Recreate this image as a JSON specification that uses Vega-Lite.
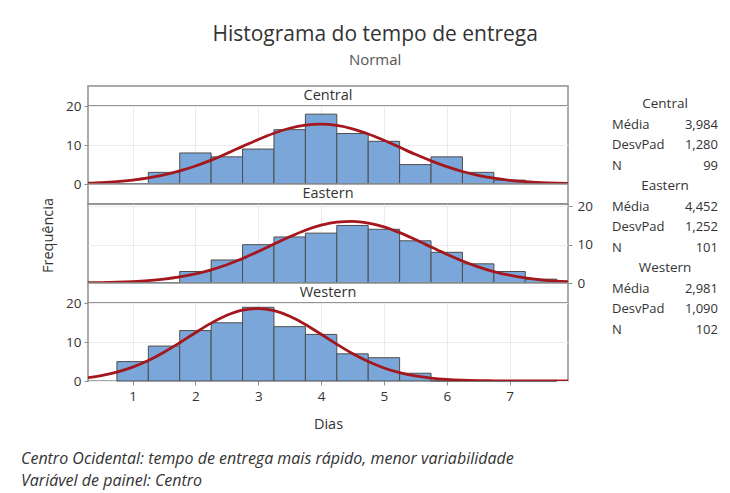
{
  "$schema": "https://vega.github.io/schema/vega-lite/v6.json",
  "padding": {"left": 20, "top": 24, "right": 5, "bottom": 5},
  "background": "white",
  "title": {
    "text": "Histograma do tempo de entrega",
    "subtitle": "Normal",
    "anchor": "middle",
    "dx": 6,
    "fontSize": 21,
    "fontWeight": "normal",
    "color": "#333333",
    "subtitleFontSize": 15,
    "subtitleColor": "#555555",
    "subtitlePadding": 8,
    "offset": 17
  },
  "datasets": {
    "barras": [
      {"centro": "Central", "inicio": 0.75, "fim": 1.25, "contagem": 0},
      {"centro": "Central", "inicio": 1.25, "fim": 1.75, "contagem": 3},
      {"centro": "Central", "inicio": 1.75, "fim": 2.25, "contagem": 8},
      {"centro": "Central", "inicio": 2.25, "fim": 2.75, "contagem": 7},
      {"centro": "Central", "inicio": 2.75, "fim": 3.25, "contagem": 9},
      {"centro": "Central", "inicio": 3.25, "fim": 3.75, "contagem": 14},
      {"centro": "Central", "inicio": 3.75, "fim": 4.25, "contagem": 18},
      {"centro": "Central", "inicio": 4.25, "fim": 4.75, "contagem": 13},
      {"centro": "Central", "inicio": 4.75, "fim": 5.25, "contagem": 11},
      {"centro": "Central", "inicio": 5.25, "fim": 5.75, "contagem": 5},
      {"centro": "Central", "inicio": 5.75, "fim": 6.25, "contagem": 7},
      {"centro": "Central", "inicio": 6.25, "fim": 6.75, "contagem": 3},
      {"centro": "Central", "inicio": 6.75, "fim": 7.25, "contagem": 1},
      {"centro": "Central", "inicio": 7.25, "fim": 7.75, "contagem": 0},
      {"centro": "Eastern", "inicio": 0.75, "fim": 1.25, "contagem": 0},
      {"centro": "Eastern", "inicio": 1.25, "fim": 1.75, "contagem": 0},
      {"centro": "Eastern", "inicio": 1.75, "fim": 2.25, "contagem": 3},
      {"centro": "Eastern", "inicio": 2.25, "fim": 2.75, "contagem": 6},
      {"centro": "Eastern", "inicio": 2.75, "fim": 3.25, "contagem": 10},
      {"centro": "Eastern", "inicio": 3.25, "fim": 3.75, "contagem": 12},
      {"centro": "Eastern", "inicio": 3.75, "fim": 4.25, "contagem": 13},
      {"centro": "Eastern", "inicio": 4.25, "fim": 4.75, "contagem": 15},
      {"centro": "Eastern", "inicio": 4.75, "fim": 5.25, "contagem": 14},
      {"centro": "Eastern", "inicio": 5.25, "fim": 5.75, "contagem": 11},
      {"centro": "Eastern", "inicio": 5.75, "fim": 6.25, "contagem": 8},
      {"centro": "Eastern", "inicio": 6.25, "fim": 6.75, "contagem": 5},
      {"centro": "Eastern", "inicio": 6.75, "fim": 7.25, "contagem": 3},
      {"centro": "Eastern", "inicio": 7.25, "fim": 7.75, "contagem": 1},
      {"centro": "Western", "inicio": 0.75, "fim": 1.25, "contagem": 5},
      {"centro": "Western", "inicio": 1.25, "fim": 1.75, "contagem": 9},
      {"centro": "Western", "inicio": 1.75, "fim": 2.25, "contagem": 13},
      {"centro": "Western", "inicio": 2.25, "fim": 2.75, "contagem": 15},
      {"centro": "Western", "inicio": 2.75, "fim": 3.25, "contagem": 19},
      {"centro": "Western", "inicio": 3.25, "fim": 3.75, "contagem": 14},
      {"centro": "Western", "inicio": 3.75, "fim": 4.25, "contagem": 12},
      {"centro": "Western", "inicio": 4.25, "fim": 4.75, "contagem": 7},
      {"centro": "Western", "inicio": 4.75, "fim": 5.25, "contagem": 6},
      {"centro": "Western", "inicio": 5.25, "fim": 5.75, "contagem": 2},
      {"centro": "Western", "inicio": 5.75, "fim": 6.25, "contagem": 0},
      {"centro": "Western", "inicio": 6.25, "fim": 6.75, "contagem": 0},
      {"centro": "Western", "inicio": 6.75, "fim": 7.25, "contagem": 0},
      {"centro": "Western", "inicio": 7.25, "fim": 7.75, "contagem": 0}
    ],
    "curvas": [
      {"centro": "Central", "dias": 0.25, "frequencia": 0.219},
      {"centro": "Central", "dias": 0.5, "frequencia": 0.38},
      {"centro": "Central", "dias": 0.75, "frequencia": 0.634},
      {"centro": "Central", "dias": 1.0, "frequencia": 1.019},
      {"centro": "Central", "dias": 1.25, "frequencia": 1.577},
      {"centro": "Central", "dias": 1.5, "frequencia": 2.347},
      {"centro": "Central", "dias": 1.75, "frequencia": 3.365},
      {"centro": "Central", "dias": 2.0, "frequencia": 4.643},
      {"centro": "Central", "dias": 2.25, "frequencia": 6.164},
      {"centro": "Central", "dias": 2.5, "frequencia": 7.879},
      {"centro": "Central", "dias": 2.75, "frequencia": 9.695},
      {"centro": "Central", "dias": 3.0, "frequencia": 11.48},
      {"centro": "Central", "dias": 3.25, "frequencia": 13.09},
      {"centro": "Central", "dias": 3.5, "frequencia": 14.37},
      {"centro": "Central", "dias": 3.75, "frequencia": 15.17},
      {"centro": "Central", "dias": 4.0, "frequencia": 15.43},
      {"centro": "Central", "dias": 4.25, "frequencia": 15.1},
      {"centro": "Central", "dias": 4.5, "frequencia": 14.23},
      {"centro": "Central", "dias": 4.75, "frequencia": 12.9},
      {"centro": "Central", "dias": 5.0, "frequencia": 11.26},
      {"centro": "Central", "dias": 5.25, "frequencia": 9.46},
      {"centro": "Central", "dias": 5.5, "frequencia": 7.65},
      {"centro": "Central", "dias": 5.75, "frequencia": 5.956},
      {"centro": "Central", "dias": 6.0, "frequencia": 4.465},
      {"centro": "Central", "dias": 6.25, "frequencia": 3.22},
      {"centro": "Central", "dias": 6.5, "frequencia": 2.236},
      {"centro": "Central", "dias": 6.75, "frequencia": 1.494},
      {"centro": "Central", "dias": 7.0, "frequencia": 0.961},
      {"centro": "Central", "dias": 7.25, "frequencia": 0.595},
      {"centro": "Central", "dias": 7.5, "frequencia": 0.355},
      {"centro": "Central", "dias": 7.75, "frequencia": 0.204},
      {"centro": "Central", "dias": 8.0, "frequencia": 0.112},
      {"centro": "Eastern", "dias": 0.25, "frequencia": 0.058},
      {"centro": "Eastern", "dias": 0.5, "frequencia": 0.11},
      {"centro": "Eastern", "dias": 0.75, "frequencia": 0.203},
      {"centro": "Eastern", "dias": 1.0, "frequencia": 0.36},
      {"centro": "Eastern", "dias": 1.25, "frequencia": 0.611},
      {"centro": "Eastern", "dias": 1.5, "frequencia": 0.998},
      {"centro": "Eastern", "dias": 1.75, "frequencia": 1.567},
      {"centro": "Eastern", "dias": 2.0, "frequencia": 2.364},
      {"centro": "Eastern", "dias": 2.25, "frequencia": 3.427},
      {"centro": "Eastern", "dias": 2.5, "frequencia": 4.773},
      {"centro": "Eastern", "dias": 2.75, "frequencia": 6.386},
      {"centro": "Eastern", "dias": 3.0, "frequencia": 8.212},
      {"centro": "Eastern", "dias": 3.25, "frequencia": 10.15},
      {"centro": "Eastern", "dias": 3.5, "frequencia": 12.05},
      {"centro": "Eastern", "dias": 3.75, "frequencia": 13.75},
      {"centro": "Eastern", "dias": 4.0, "frequencia": 15.07},
      {"centro": "Eastern", "dias": 4.25, "frequencia": 15.88},
      {"centro": "Eastern", "dias": 4.5, "frequencia": 16.08},
      {"centro": "Eastern", "dias": 4.75, "frequencia": 15.64},
      {"centro": "Eastern", "dias": 5.0, "frequencia": 14.62},
      {"centro": "Eastern", "dias": 5.25, "frequencia": 13.13},
      {"centro": "Eastern", "dias": 5.5, "frequencia": 11.33},
      {"centro": "Eastern", "dias": 5.75, "frequencia": 9.401},
      {"centro": "Eastern", "dias": 6.0, "frequencia": 7.492},
      {"centro": "Eastern", "dias": 6.25, "frequencia": 5.738},
      {"centro": "Eastern", "dias": 6.5, "frequencia": 4.222},
      {"centro": "Eastern", "dias": 6.75, "frequencia": 2.985},
      {"centro": "Eastern", "dias": 7.0, "frequencia": 2.029},
      {"centro": "Eastern", "dias": 7.25, "frequencia": 1.324},
      {"centro": "Eastern", "dias": 7.5, "frequencia": 0.831},
      {"centro": "Eastern", "dias": 7.75, "frequencia": 0.501},
      {"centro": "Eastern", "dias": 8.0, "frequencia": 0.29},
      {"centro": "Western", "dias": 0.25, "frequencia": 0.809},
      {"centro": "Western", "dias": 0.5, "frequencia": 1.4},
      {"centro": "Western", "dias": 0.75, "frequencia": 2.298},
      {"centro": "Western", "dias": 1.0, "frequencia": 3.581},
      {"centro": "Western", "dias": 1.25, "frequencia": 5.291},
      {"centro": "Western", "dias": 1.5, "frequencia": 7.418},
      {"centro": "Western", "dias": 1.75, "frequencia": 9.867},
      {"centro": "Western", "dias": 2.0, "frequencia": 12.45},
      {"centro": "Western", "dias": 2.25, "frequencia": 14.91},
      {"centro": "Western", "dias": 2.5, "frequencia": 16.94},
      {"centro": "Western", "dias": 2.75, "frequencia": 18.26},
      {"centro": "Western", "dias": 3.0, "frequencia": 18.67},
      {"centro": "Western", "dias": 3.25, "frequencia": 18.11},
      {"centro": "Western", "dias": 3.5, "frequencia": 16.67},
      {"centro": "Western", "dias": 3.75, "frequencia": 14.56},
      {"centro": "Western", "dias": 4.0, "frequencia": 12.06},
      {"centro": "Western", "dias": 4.25, "frequencia": 9.481},
      {"centro": "Western", "dias": 4.5, "frequencia": 7.07},
      {"centro": "Western", "dias": 4.75, "frequencia": 5.003},
      {"centro": "Western", "dias": 5.0, "frequencia": 3.359},
      {"centro": "Western", "dias": 5.25, "frequencia": 2.14},
      {"centro": "Western", "dias": 5.5, "frequencia": 1.293},
      {"centro": "Western", "dias": 5.75, "frequencia": 0.741},
      {"centro": "Western", "dias": 6.0, "frequencia": 0.403},
      {"centro": "Western", "dias": 6.25, "frequencia": 0.208},
      {"centro": "Western", "dias": 6.5, "frequencia": 0.102},
      {"centro": "Western", "dias": 6.75, "frequencia": 0.047},
      {"centro": "Western", "dias": 7.0, "frequencia": 0.021},
      {"centro": "Western", "dias": 7.25, "frequencia": 0.009},
      {"centro": "Western", "dias": 7.5, "frequencia": 0.003},
      {"centro": "Western", "dias": 7.75, "frequencia": 0.001},
      {"centro": "Western", "dias": 8.0, "frequencia": 0.0004}
    ],
    "estatisticas": [
      {"linha": "Central", "tipo": "cabecalho", "texto": "Central"},
      {"linha": "Central Média", "tipo": "rotulo", "texto": "Média"},
      {"linha": "Central Média", "tipo": "valor", "texto": "3,984"},
      {"linha": "Central DesvPad", "tipo": "rotulo", "texto": "DesvPad"},
      {"linha": "Central DesvPad", "tipo": "valor", "texto": "1,280"},
      {"linha": "Central N", "tipo": "rotulo", "texto": "N"},
      {"linha": "Central N", "tipo": "valor", "texto": "99"},
      {"linha": "Eastern", "tipo": "cabecalho", "texto": "Eastern"},
      {"linha": "Eastern Média", "tipo": "rotulo", "texto": "Média"},
      {"linha": "Eastern Média", "tipo": "valor", "texto": "4,452"},
      {"linha": "Eastern DesvPad", "tipo": "rotulo", "texto": "DesvPad"},
      {"linha": "Eastern DesvPad", "tipo": "valor", "texto": "1,252"},
      {"linha": "Eastern N", "tipo": "rotulo", "texto": "N"},
      {"linha": "Eastern N", "tipo": "valor", "texto": "101"},
      {"linha": "Western", "tipo": "cabecalho", "texto": "Western"},
      {"linha": "Western Média", "tipo": "rotulo", "texto": "Média"},
      {"linha": "Western Média", "tipo": "valor", "texto": "2,981"},
      {"linha": "Western DesvPad", "tipo": "rotulo", "texto": "DesvPad"},
      {"linha": "Western DesvPad", "tipo": "valor", "texto": "1,090"},
      {"linha": "Western N", "tipo": "rotulo", "texto": "N"},
      {"linha": "Western N", "tipo": "valor", "texto": "102"}
    ]
  },
  "spacing": 18,
  "hconcat": [
    {
      "spacing": 0,
      "bounds": "flush",
      "vconcat": [
        {
          "width": 480, "height": 20,
          "data": {"values": [{"centro": "Central"}]},
          "layer": [
            {"mark": {"type": "rect", "fill": "white", "stroke": "#8f8f8f", "strokeWidth": 1.5}, "encoding": {}},
            {"mark": {"type": "text", "fontSize": 14.5, "color": "#333333", "baseline": "middle"}, "encoding": {"text": {"field": "centro"}}}
          ]
        },
        {
          "width": 480, "height": 78,
          "layer": [
            {
              "data": {"name": "barras"},
              "transform": [{"filter": "datum.centro == 'Central'"}],
              "mark": {"type": "rect", "fill": "#7BA6D9", "stroke": "#4d4d4d", "strokeWidth": 1},
              "encoding": {
                "x": {"field": "inicio", "type": "quantitative", "scale": {"domain": [0.29, 7.93], "nice": false, "zero": false}, "axis": {"values": [1, 2, 3, 4, 5, 6, 7], "labels": false, "ticks": false, "title": null, "grid": true}},
                "x2": {"field": "fim"},
                "y": {"field": "contagem", "type": "quantitative", "scale": {"domain": [0, 20.1], "nice": false}, "axis": {"values": [0, 10, 20], "title": null, "grid": true, "labelOverlap": false}},
                "y2": {"datum": 0}
              }
            },
            {
              "data": {"name": "curvas"},
              "transform": [{"filter": "datum.centro == 'Central'"}],
              "mark": {"type": "line", "interpolate": "monotone", "stroke": "#A3171D", "strokeWidth": 2.8, "clip": true},
              "encoding": {
                "x": {"field": "dias", "type": "quantitative", "axis": {"values": [1, 2, 3, 4, 5, 6, 7], "labels": false, "ticks": false, "title": null, "grid": true}},
                "y": {"field": "frequencia", "type": "quantitative", "axis": {"values": [0, 10, 20], "title": null, "grid": true, "labelOverlap": false}}
              }
            }
          ]
        },
        {
          "width": 480, "height": 20,
          "data": {"values": [{"centro": "Eastern"}]},
          "layer": [
            {"mark": {"type": "rect", "fill": "white", "stroke": "#8f8f8f", "strokeWidth": 1.5}, "encoding": {}},
            {"mark": {"type": "text", "fontSize": 14.5, "color": "#333333", "baseline": "middle"}, "encoding": {"text": {"field": "centro"}}}
          ]
        },
        {
          "width": 480, "height": 79,
          "resolve": {"scale": {"y": "independent"}},
          "layer": [
            {
              "data": {"name": "barras"},
              "transform": [{"filter": "datum.centro == 'Eastern'"}],
              "mark": {"type": "rect", "fill": "#7BA6D9", "stroke": "#4d4d4d", "strokeWidth": 1},
              "encoding": {
                "x": {"field": "inicio", "type": "quantitative", "scale": {"domain": [0.29, 7.93], "nice": false, "zero": false}, "axis": {"values": [1, 2, 3, 4, 5, 6, 7], "labels": false, "ticks": false, "title": null, "grid": true}},
                "x2": {"field": "fim"},
                "y": {"field": "contagem", "type": "quantitative", "scale": {"domain": [0, 20.6], "nice": false}, "axis": {"orient": "right", "values": [0, 10, 20], "title": null, "grid": true, "labelPadding": 5, "labelOverlap": false}},
                "y2": {"datum": 0}
              }
            },
            {
              "data": {"name": "curvas"},
              "transform": [{"filter": "datum.centro == 'Eastern'"}],
              "mark": {"type": "line", "interpolate": "monotone", "stroke": "#A3171D", "strokeWidth": 2.8, "clip": true},
              "encoding": {
                "x": {"field": "dias", "type": "quantitative"},
                "y": {"field": "frequencia", "type": "quantitative", "scale": {"domain": [0, 20.6], "nice": false}, "axis": {"orient": "left", "title": "Frequência", "labels": false, "ticks": false, "grid": false, "titlePadding": 33, "titleY": 31}}
              }
            }
          ]
        },
        {
          "width": 480, "height": 20,
          "data": {"values": [{"centro": "Western"}]},
          "layer": [
            {"mark": {"type": "rect", "fill": "white", "stroke": "#8f8f8f", "strokeWidth": 1.5}, "encoding": {}},
            {"mark": {"type": "text", "fontSize": 14.5, "color": "#333333", "baseline": "middle"}, "encoding": {"text": {"field": "centro"}}}
          ]
        },
        {
          "width": 480, "height": 78,
          "title": {
            "text": ["Centro Ocidental: tempo de entrega mais rápido, menor variabilidade", "Variável de painel: Centro"],
            "orient": "bottom",
            "anchor": "start",
            "frame": "group",
            "dx": -67,
            "offset": 20,
            "fontSize": 16,
            "fontStyle": "italic",
            "fontWeight": "normal",
            "color": "#333333",
            "lineHeight": 22
          },
          "layer": [
            {
              "data": {"name": "barras"},
              "transform": [{"filter": "datum.centro == 'Western'"}],
              "mark": {"type": "rect", "fill": "#7BA6D9", "stroke": "#4d4d4d", "strokeWidth": 1},
              "encoding": {
                "x": {"field": "inicio", "type": "quantitative", "scale": {"domain": [0.29, 7.93], "nice": false, "zero": false}, "axis": {"values": [1, 2, 3, 4, 5, 6, 7], "format": "d", "title": "Dias", "grid": true, "titlePadding": 15, "labelPadding": 4}},
                "x2": {"field": "fim"},
                "y": {"field": "contagem", "type": "quantitative", "scale": {"domain": [0, 20.1], "nice": false}, "axis": {"values": [0, 10, 20], "title": null, "grid": true, "labelOverlap": false}},
                "y2": {"datum": 0}
              }
            },
            {
              "data": {"name": "curvas"},
              "transform": [{"filter": "datum.centro == 'Western'"}],
              "mark": {"type": "line", "interpolate": "monotone", "stroke": "#A3171D", "strokeWidth": 2.8, "clip": true},
              "encoding": {
                "x": {"field": "dias", "type": "quantitative", "axis": {"values": [1, 2, 3, 4, 5, 6, 7], "format": "d", "title": "Dias", "grid": true, "titlePadding": 15, "labelPadding": 4}},
                "y": {"field": "frequencia", "type": "quantitative", "axis": {"values": [0, 10, 20], "title": null, "grid": true, "labelOverlap": false}}
              }
            }
          ]
        }
      ]
    },
    {
      "width": 106,
      "height": 262,
      "view": {"stroke": null},
      "data": {"name": "estatisticas"},
      "encoding": {
        "y": {"field": "linha", "type": "ordinal", "axis": null, "scale": {"type": "point", "padding": 0.9, "domain": ["Central", "Central Média", "Central DesvPad", "Central N", "Eastern", "Eastern Média", "Eastern DesvPad", "Eastern N", "Western", "Western Média", "Western DesvPad", "Western N"]}},
        "x": {"field": "tipo", "type": "nominal", "axis": null, "scale": {"type": "point", "padding": 0, "domain": ["rotulo", "cabecalho", "valor"]}},
        "text": {"field": "texto"}
      },
      "layer": [
        {"transform": [{"filter": "datum.tipo == 'cabecalho'"}], "mark": {"type": "text", "align": "center", "baseline": "middle", "fontSize": 13.5, "color": "#333333"}},
        {"transform": [{"filter": "datum.tipo == 'rotulo'"}], "mark": {"type": "text", "align": "left", "baseline": "middle", "fontSize": 13, "color": "#333333"}},
        {"transform": [{"filter": "datum.tipo == 'valor'"}], "mark": {"type": "text", "align": "right", "baseline": "middle", "fontSize": 13, "color": "#333333"}}
      ]
    }
  ],
  "config": {
    "font": "Open Sans",
    "view": {"stroke": "#8f8f8f", "strokeWidth": 1.5},
    "axis": {
      "labelFont": "Open Sans",
      "labelFontSize": 13.5,
      "labelColor": "#333333",
      "labelPadding": 3,
      "tickColor": "#8f8f8f",
      "tickSize": 4,
      "domain": false,
      "gridColor": "#ececec",
      "titleFont": "Open Sans",
      "titleFontSize": 14.5,
      "titleFontWeight": "normal",
      "titleColor": "#333333"
    },
    "title": {"font": "Open Sans", "subtitleFont": "Open Sans"}
  }
}
